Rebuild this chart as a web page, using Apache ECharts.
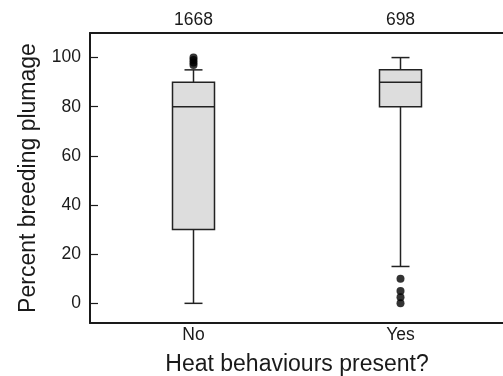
<!DOCTYPE html>
<html>
<head>
<meta charset="utf-8">
<script src="https://cdn.jsdelivr.net/npm/echarts@6/dist/echarts.min.js"></script>
<style>html,body{margin:0;padding:0;background:#fff}#c{width:503px;height:376px}</style>
</head>
<body>
<div id="c"></div>
<script>
var categories = ['No', 'Yes'];
var counts = ['1668', '698'];
var whiskerLow = [0, 15];
var q1 = [30, 80];
var median = [80, 90];
var q3 = [90, 95];
var whiskerHigh = [95, 100];
var outliersNo = [97, 98, 99, 100];
var outliersYes = [10, 5, 2.5, 0];
var yTicks = [0, 20, 40, 60, 80, 100];

var boxData = categories.map(function (c, i) {
  return [i, whiskerLow[i], q1[i], median[i], q3[i], whiskerHigh[i]];
});
var outlierData = [];
outliersNo.forEach(function (v) { outlierData.push([0, v]); });
outliersYes.forEach(function (v) { outlierData.push([1, v]); });

var FONT = 'Liberation Sans, Arial, sans-serif';
var INK = '#1a1a1a';

var chart = echarts.init(document.getElementById('c'));
chart.setOption({
  animation: false,
  backgroundColor: '#fff',
  grid: { left: 90, top: 33, width: 414, height: 290, containLabel: false, outerBoundsMode: 'none' },
  xAxis: [{
    type: 'category',
    data: categories,
    position: 'bottom',
    axisLine: { onZero: false, lineStyle: { color: INK, width: 2 } },
    axisTick: { inside: true, length: 8, alignWithLabel: true, lineStyle: { color: INK, width: 1.2 } },
    axisLabel: { color: INK, fontSize: 17.5, fontFamily: FONT, margin: 3 },
    name: 'Heat behaviours present?',
    nameLocation: 'middle',
    nameGap: 30,
    nameTextStyle: { color: INK, fontSize: 23, fontFamily: FONT }
  }, {
    type: 'category',
    data: counts,
    position: 'top',
    axisLine: { onZero: false, lineStyle: { color: INK, width: 2 } },
    axisTick: { show: false },
    axisLabel: { color: INK, fontSize: 17.5, fontFamily: FONT, margin: 4 }
  }],
  yAxis: {
    type: 'value',
    min: -8,
    max: 110,
    axisLine: { show: true, onZero: false, lineStyle: { color: INK, width: 2 } },
    axisTick: { show: true, inside: true, length: 8, customValues: yTicks, lineStyle: { color: INK, width: 1.2 } },
    axisLabel: { color: INK, fontSize: 17.5, fontFamily: FONT, margin: 9, customValues: yTicks },
    splitLine: { show: false },
    name: 'Percent breeding plumage',
    nameLocation: 'middle',
    nameGap: 50,
    nameRotate: 90,
    nameTextStyle: { color: INK, fontSize: 23, fontFamily: FONT }
  },
  series: [{
    type: 'custom',
    xAxisIndex: 0,
    data: boxData,
    renderItem: function (params, api) {
      var idx = api.value(0);
      var pLow = api.coord([idx, api.value(1)]);
      var pQ1 = api.coord([idx, api.value(2)]);
      var pMed = api.coord([idx, api.value(3)]);
      var pQ3 = api.coord([idx, api.value(4)]);
      var pHigh = api.coord([idx, api.value(5)]);
      var x = pQ1[0];
      var bw = 42, cw = 18;
      var ls = { stroke: '#222', lineWidth: 1.5, fill: null };
      return {
        type: 'group',
        children: [
          { type: 'line', shape: { x1: x, y1: pLow[1], x2: x, y2: pQ1[1] }, style: ls },
          { type: 'line', shape: { x1: x, y1: pQ3[1], x2: x, y2: pHigh[1] }, style: ls },
          { type: 'line', shape: { x1: x - cw / 2, y1: pLow[1], x2: x + cw / 2, y2: pLow[1] }, style: ls },
          { type: 'line', shape: { x1: x - cw / 2, y1: pHigh[1], x2: x + cw / 2, y2: pHigh[1] }, style: ls },
          { type: 'rect', shape: { x: x - bw / 2, y: pQ3[1], width: bw, height: pQ1[1] - pQ3[1] },
            style: { fill: '#dddddd', stroke: '#222', lineWidth: 1.5 } },
          { type: 'line', shape: { x1: x - bw / 2, y1: pMed[1], x2: x + bw / 2, y2: pMed[1] }, style: ls }
        ]
      };
    }
  }, {
    type: 'scatter',
    xAxisIndex: 0,
    data: outlierData,
    symbol: 'circle',
    symbolSize: 8,
    itemStyle: { color: '#000' }
  }]
});
</script>
</body>
</html>
